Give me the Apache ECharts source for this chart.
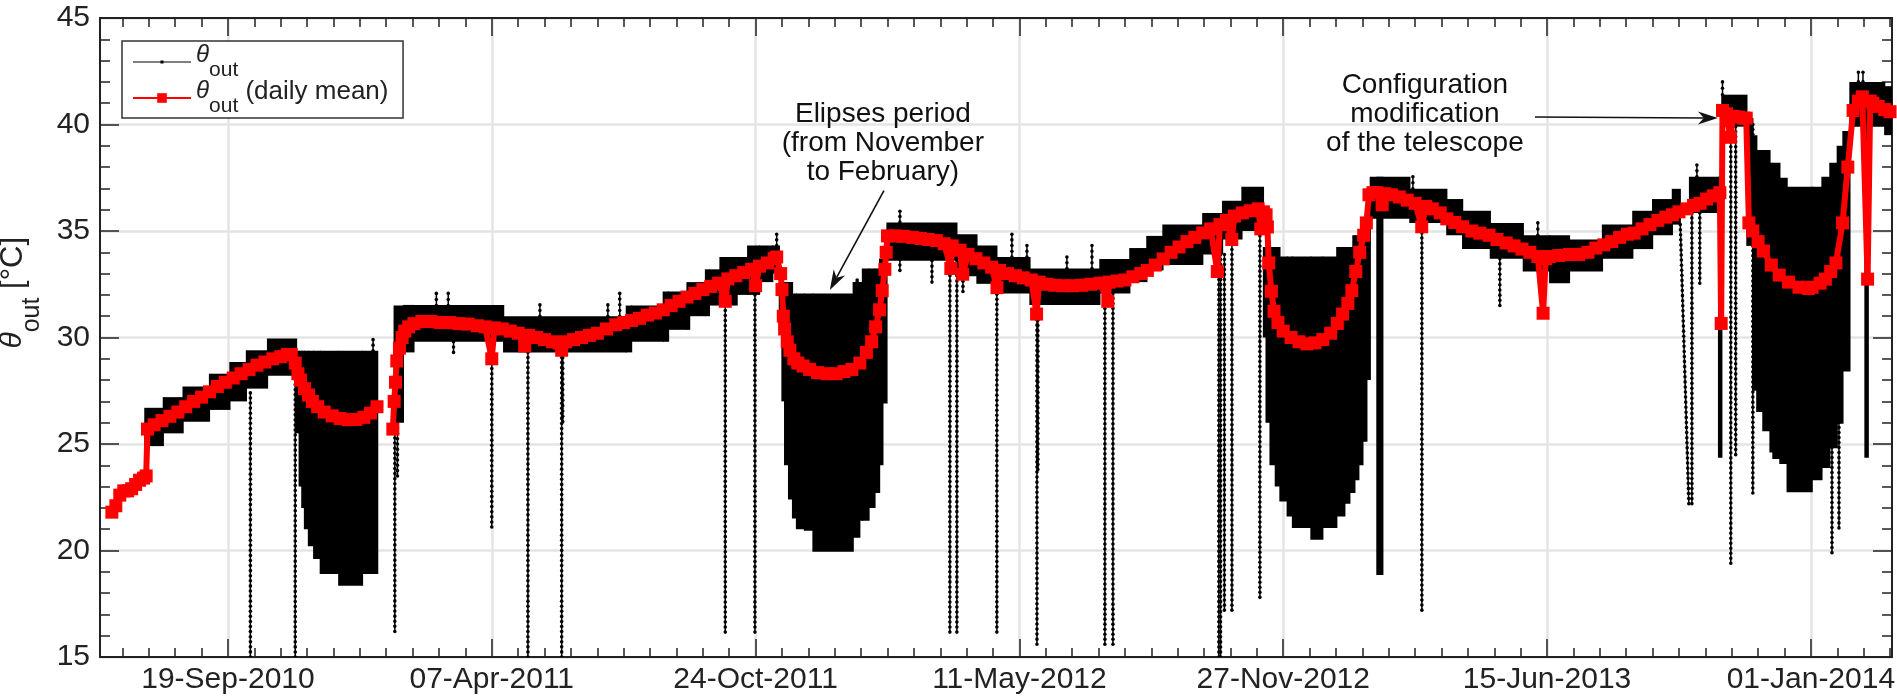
<!DOCTYPE html>
<html><head><meta charset="utf-8">
<script src="https://cdn.jsdelivr.net/npm/echarts@6/dist/echarts.min.js"></script>
<style>html,body{margin:0;padding:0;background:#fff}#c{width:1897px;height:697px}</style>
</head><body><div id="c"></div>
<script>
// x values: days since 19-Sep-2010
const xTickDays = [0, 200, 400, 600, 800, 1000, 1200];
const xTickLabels = ['19-Sep-2010','07-Apr-2011','24-Oct-2011','11-May-2012','27-Nov-2012','15-Jun-2013','01-Jan-2014'];
const yTickValues = [15, 20, 25, 30, 35, 40, 45];
const xRange = [-97, 1261.5];

// daily mean [day, value]; null = no data
const meanDaily = [
[-88,21.8],[-85,22.1],[-82,22.6],[-79,22.8],[-76,22.8],[-73,22.9],[-70,23.1],[-67,23.3],[-64,23.4],[-62,23.5],
[-61,25.7],[-56,25.9],[-50,26.1],[-44,26.3],[-38,26.5],[-32,26.75],[-26,27.0],[-20,27.2],[-14,27.45],[-8,27.7],
[-2,27.9],[4,28.1],[10,28.3],[16,28.5],[22,28.7],[28,28.85],[34,29.0],[40,29.1],[45,29.2],[48,29.2],
[51,28.8],[53,28.3],[55,28.0],[58,27.6],[61,27.3],[64,27.0],[68,26.75],[73,26.5],[79,26.32],[85,26.2],
[91,26.14],[97,26.15],[103,26.25],[108,26.45],[113,26.75],[119,null],
[125,25.7],[126,27.0],[127,27.9],[128,28.9],[130,29.5],[132,30.0],[134,30.3],[137,30.5],[141,30.65],[147,30.75],
[154,30.75],[161,30.7],[168,30.7],[175,30.65],[182,30.63],[189,30.55],[195,30.5],[200,29.0],[202,30.45],[208,30.4],
[214,30.3],[220,30.2],[225,29.6],[228,30.1],[234,30.0],[240,29.9],[246,29.8],[251,29.74],[253,29.4],[256,29.8],
[262,29.9],[268,30.0],[274,30.1],[280,30.2],[287,30.4],[294,30.6],[300,30.7],[306,30.8],[312,30.9],[318,31.05],
[324,31.15],[330,31.3],[336,31.5],[342,31.7],[348,31.9],[354,32.07],[360,32.25],[366,32.4],[372,32.55],[377,31.7],
[379,32.75],[385,32.9],[391,33.05],[397,33.2],[400,32.43],[403,33.35],[409,33.5],[414,33.7],[416,33.78],[419,33.0],
[420,32.25],[421,31.0],[422,30.4],[424,29.8],[426,29.4],[429,29.0],[432,28.8],[436,28.66],[441,28.5],[447,28.35],
[454,28.3],[461,28.3],[467,28.4],[473,28.5],[479,28.8],[484,29.3],[488,29.8],[491,30.5],[494,31.3],[496,32.2],
[498,33.2],[499,34.0],[500,34.77],[506,34.77],[512,34.75],[519,34.7],[525,34.65],[531,34.6],[537,34.55],[543,34.4],
[548,33.24],[549,34.3],[555,34.1],[557,32.97],[561,33.9],[567,33.7],[573,33.5],[579,33.3],[583,32.34],[585,33.15],
[591,33.0],[597,32.9],[603,32.8],[609,32.7],[613,31.1],[615,32.6],[621,32.5],[627,32.45],[633,32.43],[640,32.43],
[647,32.45],[654,32.5],[661,32.55],[667,31.7],[668,32.6],[674,32.65],[680,32.7],[686,32.85],[692,33.0],[697,33.15],
[703,33.4],[709,33.69],[715,34.0],[721,34.25],[727,34.5],[733,34.7],[739,34.91],[745,35.1],[750,33.1],[752,35.3],
[757,35.5],[761,34.6],[763,35.7],[769,35.85],[775,35.95],[781,36.04],[783,35.1],[785,35.9],[787,35.76],[788,35.19],
[789,33.5],[791,32.17],[793,31.23],[796,30.7],[800,30.3],[806,30.0],[812,29.8],[818,29.7],[824,29.75],[830,29.9],
[836,30.2],[841,30.66],[845,31.1],[849,31.6],[852,32.2],[855,33.1],[858,34.0],[861,34.8],[863,35.38],[865,36.7],
[868,36.8],[871,36.8],[875,36.23],[877,36.75],[882,36.7],[888,36.6],[894,36.45],[900,36.3],[905,35.2],[908,36.15],
[913,36.04],[919,35.85],[924,35.57],[930,35.4],[936,35.2],[943,35.0],[949,34.9],[956,34.8],[962,34.6],[969,34.44],
[975,34.3],[981,34.15],[987,34.0],[993,33.8],[997,31.14],[999,33.7],[1002,33.8],[1009,33.85],[1017,33.9],[1024,33.9],
[1031,34.0],[1037,34.2],[1043,34.35],[1049,34.5],[1055,34.7],[1061,34.85],[1066,34.9],[1072,35.1],[1078,35.3],[1084,35.5],
[1090,35.65],[1095,35.76],[1100,35.9],[1106,36.04],[1111,36.2],[1116,36.3],[1121,36.5],[1126,36.65],[1131,36.8],[1132,30.66],
[1133,40.66],[1136,40.5],[1139,39.4],[1141,40.38],[1145,40.35],[1149,40.3],[1151,40.3],[1153,35.38],[1156,35.0],[1160,34.5],
[1164,34.06],[1170,33.4],[1176,32.93],[1183,32.6],[1191,32.36],[1198,32.3],[1201,32.36],[1207,32.55],[1211,32.74],[1215,33.1],
[1219,33.5],[1224,35.38],[1228,38.0],[1232,40.66],[1236,41.1],[1239,41.3],[1243,32.74],[1245,41.1],[1247,41.0],[1251,40.85],
[1256,40.7],[1260,40.6]
];

// raw record: dense stretches as [dayStart, dayEnd, low, high]
const rawBands = [
[-63,-49,24.9,26.7],[-49,-34,25.5,27.2],[-34,-14,26.05,27.7],[-14,1.5,26.6,28.3],[1.5,14,27.0,28.85],[14,30,27.6,29.4],[30,52,28.2,29.95],
[52,54,25.5,29.38],[54,56,23.0,29.38],[56,58,22.0,29.38],[58,61,21.0,29.38],[61,65,20.2,29.38],[65,70,19.6,29.38],[70,84,18.9,29.38],[84,102,18.35,29.38],[102,113.5,18.9,29.38],
[126,133,26.0,31.5],[133,141,29.3,31.53],[141,209,29.8,31.53],[209,302,29.3,31.0],[302,306,29.3,31.5],[306,330,29.8,31.5],[330,334,29.8,32.16],[334,348,30.36,32.16],
[348,350,30.36,32.6],[350,362,31.0,32.6],[362,365,31.0,33.2],[365,373,31.5,33.2],[373,386,31.5,33.78],[386,394,32.0,33.78],[394,403,32.0,34.32],[403,413,32.6,34.32],[413,418,33.0,34.32],
[418,420,30.4,32.6],[420,422,27.0,32.6],[422,425,24.0,32.6],[425,428,22.4,32.6],[428,431,21.5,32.07],[431,437,21.0,32.07],[437,443.5,20.93,32.07],[443.5,474,19.94,32.07],
[474,479,20.6,32.6],[479,481,21.4,32.6],[481,486,21.4,33.24],[486,490.5,22.0,33.24],[490.5,494,22.7,33.24],[494,496.5,24.0,33.7],[496.5,499.6,26.9,33.7],
[499.6,552.6,33.6,35.4],[552.6,567.8,32.88,34.85],[567.8,582.9,32.52,34.32],[582.9,608,32.07,33.78],[608,661,31.53,33.24],[661,683.7,32.07,33.69],[683.7,696.6,32.6,34.2],
[696.6,708.8,33.15,34.77],[708.8,739,33.4,35.3],[739,754,33.9,35.85],[754,768.7,34.6,36.42],[768.7,785,35.0,37.08],
[785,787,30.0,34.25],[787,790,26.0,34.25],[790,794,24.0,34.25],[794,797.5,23.0,34.25],[797.5,803,22.3,33.8],[803,807,21.6,33.8],[807,821,21.06,33.8],[821,830,20.5,33.8],
[830,840.6,21.06,33.8],[840.6,846.7,21.6,34.25],[846.7,850.5,22.2,34.25],[850.5,852.8,22.7,34.25],[852.8,854.3,22.7,34.8],[854.3,857.3,23.3,34.8],[857.3,860.4,24.0,34.8],
[860.4,863.4,25.1,35.4],[863.4,866,28.0,36.5],
[866,896,35.57,37.55],[871,875.5,18.85,37.55],[896,924,35.38,36.98],[924,936,34.8,36.5],[936,957,34.15,35.95],[957,982,33.7,35.38],[982,1002,33.1,34.8],
[1002,1017,32.55,34.8],[1017,1042,33.1,34.6],[1042,1065,33.7,35.3],[1065,1080,34.15,35.95],[1080,1095,34.8,36.5],[1095,1101,35.3,36.98],[1108,1131,35.85,37.55],
[1130,1132.5,24.35,37.55],[1132.5,1151.5,39.9,41.4],[1151.5,1156,34.3,40.3],
[1156,1159,27.5,39.5],[1159,1163.6,26.5,38.8],[1163.6,1169,25.6,38.8],[1169,1171.2,24.6,38.2],[1171.2,1176.5,24.3,38.2],[1176.5,1182,24.06,37.5],[1182,1201,22.74,37.08],
[1201,1208.4,23.3,37.08],[1208.4,1214.4,23.87,37.55],[1214.4,1220,24.8,38.2],[1220,1224.3,25.95,39.0],[1224.3,1229.6,28.4,39.7],
[1229.6,1256,39.9,42.0],[1241,1243.5,24.35,42.0],[1256,1262,39.5,41.8]
];

// raw record: isolated excursions [day0, value0, day1, value1]
const rawSpikes = [
[17,27.4,17,15],[51,28.5,51,15],[110,29.9,110,29.38],[126.5,26.0,126.5,16.2],[128.5,27.0,128.5,23.5],[158,32.07,158,31.5],[167,32.07,167,31.5],
[171,29.8,171,29.3],[200,29.5,200,21.1],[227.4,29.3,227.4,15],[236.5,31.53,236.5,31.0],[253,29.3,253,15],[253.8,29.3,253.8,26.05],[288,31.53,288,31.0],
[297,32.07,297,31.0],[377,31.5,377,16.17],[399.5,32.0,399.5,16.17],[416,34.85,416,34.32],[477,32.7,477,32.6],[509.4,35.93,509.4,33.15],[533.7,33.6,533.7,32.6],
[547.3,33.6,547.3,16.17],[552.6,33.6,552.6,16.17],[557.2,32.88,557.2,32.16],[582.9,32.5,582.9,16.17],[594.3,34.85,594.3,33.78],[605.7,34.32,605.7,33.78],
[613.3,31.53,613.3,15.6],[614,31.53,614,23.8],[636,33.78,636,33.24],[655,34.32,655,33.24],[664.8,32.07,664.8,15.6],[670.9,32.07,670.9,15.6],
[751.2,33.9,751.2,15],[752.5,33.9,752.5,15],[755.4,33.9,755.4,17.2],[761.1,34.6,761.1,17.2],[782.3,35.0,782.3,17.8],[898.3,37.55,898.3,36.98],
[905.1,35.38,905.1,17.2],[964.2,33.7,964.2,31.5],[993,35.38,993,34.8],[996.8,33.1,996.8,31.1],[1101,35.3,1107.5,22.2],[1109.8,35.85,1109.8,22.2],
[1113.6,38.1,1113.6,37.55],[1115.8,35.85,1115.8,32.55],[1133,42.0,1133,41.4],[1139.3,39.9,1139.3,19.4],[1143,39.9,1143,24.5],[1156,40.0,1156,22.7],
[1216,38.0,1216,19.9],[1221.3,38.5,1221.3,21.06],[1236,42.45,1236,42.0],[1239.5,42.45,1239.5,42.0]
];

const N1 = 'θout', N2 = 'θout (daily mean)';
const FONT = 'Liberation Sans';
const minorDays = [];
for (let d = -80; d <= 1260; d += 20) if (d % 200 !== 0) minorDays.push(d);

const chart = echarts.init(document.getElementById('c'), null, {renderer: 'canvas'});
const axisLineStyle = {color: '#222', width: 2};
const richLegend = {
  th: {fontFamily: FONT, fontStyle: 'italic', fontSize: 24, lineHeight: 30, verticalAlign: 'top', color: '#222'},
  sub: {fontFamily: FONT, fontSize: 21, lineHeight: 20, verticalAlign: 'bottom', color: '#222'},
  t: {fontFamily: FONT, fontSize: 26, lineHeight: 32, verticalAlign: 'top', color: '#222'},
  z: {fontSize: 2, lineHeight: 38}
};
const richName = {
  th: {fontFamily: FONT, fontStyle: 'italic', fontSize: 30, lineHeight: 36, verticalAlign: 'top', color: '#222'},
  sub: {fontFamily: FONT, fontSize: 25, lineHeight: 24, verticalAlign: 'bottom', color: '#222'},
  t: {fontFamily: FONT, fontSize: 31, lineHeight: 38, verticalAlign: 'top', color: '#222'},
  z: {fontSize: 2, lineHeight: 47}
};
function xAxisDef(pos, ticks, len, labels) {
  return {
    type: 'value', position: pos, min: xRange[0], max: xRange[1], gridIndex: 0,
    axisLine: {show: true, onZero: false, lineStyle: axisLineStyle},
    axisTick: {show: true, inside: true, length: len, customValues: ticks, lineStyle: {color: '#222', width: 1.5}},
    axisLabel: labels ? {show: true, customValues: xTickDays, margin: 8, fontFamily: FONT, fontSize: 30, color: '#222',
      formatter: v => xTickLabels[xTickDays.indexOf(Math.round(v))] || ''} : {show: false},
    splitLine: labels ? {show: true, lineStyle: {color: '#e4e4e4', width: 2.5}} : {show: false}
  };
}
function yAxisDef(pos, labels) {
  return {
    type: 'value', position: pos, min: 15, max: 45, interval: 5, gridIndex: 0,
    axisLine: {show: true, onZero: false, lineStyle: axisLineStyle},
    axisTick: {show: true, inside: true, length: 19, lineStyle: {color: '#222', width: 1.5}},
    minorTick: {show: true, splitNumber: 5, length: 10, lineStyle: {color: '#222', width: 1.5}},
    axisLabel: labels ? {show: true, margin: 10, fontFamily: FONT, fontSize: 30, color: '#222',
      formatter: v => yTickValues.indexOf(v) >= 0 ? String(v) : ''} : {show: false},
    splitLine: labels ? {show: true, lineStyle: {color: '#e4e4e4', width: 2.5}} : {show: false},
    name: labels ? '{th|θ}{sub|out}{t| [°C]}{z| }' : '',
    nameLocation: 'middle', nameGap: 55, nameRotate: 90,
    nameTextStyle: {rich: richName, padding: [0, 0, 0, 90]}
  };
}

chart.setOption({
  animation: false,
  backgroundColor: '#fff',
  grid: {left: 100, right: 5, top: 18, bottom: 40, containLabel: false, outerBoundsMode: 'none'},
  xAxis: [
    xAxisDef('bottom', xTickDays, 18, true),
    xAxisDef('bottom', minorDays, 9, false),
    xAxisDef('top', xTickDays, 18, false),
    xAxisDef('top', minorDays, 9, false)
  ],
  yAxis: [yAxisDef('left', true), yAxisDef('right', false)],
  legend: {
    left: 122, top: 41, orient: 'vertical',
    padding: [2, 14, 1, 10], itemGap: -2,
    borderColor: '#333', borderWidth: 1.5, backgroundColor: '#fff',
    itemWidth: 58, itemHeight: 12,
    data: [{name: N1, icon: 'path://M0,5.4H58V6.6H0Z M27.5,4.5H30.5V7.5H27.5Z'}, {name: N2}],
    formatter: n => n === N1 ? '{th|θ}{sub|out}{z| }' : '{th|θ}{sub|out}{t| (daily mean)}{z| }',
    textStyle: {fontFamily: FONT, fontSize: 25, color: '#222', rich: richLegend}
  },
  series: [
    {
      name: N1, type: 'custom', xAxisIndex: 0, yAxisIndex: 0, clip: true, z: 2,
      itemStyle: {color: '#000'},
      encode: {x: [0, 1], y: [2, 3]},
      data: rawBands,
      renderItem: (params, api) => {
        const p0 = api.coord([api.value(0), api.value(3)]);
        const p1 = api.coord([api.value(1), api.value(2)]);
        return {type: 'rect', shape: {x: p0[0] - 0.6, y: p0[1], width: Math.max(1.5, p1[0] - p0[0]) + 1.2, height: p1[1] - p0[1]},
          style: {fill: '#000'}};
      }
    },
    {
      name: N1, type: 'custom', xAxisIndex: 0, yAxisIndex: 0, clip: true, z: 2,
      itemStyle: {color: '#000'},
      encode: {x: [0, 2], y: [1, 3]},
      data: rawSpikes,
      renderItem: (params, api) => {
        const a = api.coord([api.value(0), api.value(1)]);
        const b = api.coord([api.value(2), api.value(3)]);
        const children = [{type: 'line', shape: {x1: a[0], y1: a[1], x2: b[0], y2: b[1]}, style: {stroke: '#000', lineWidth: 1.5}}];
        const len = Math.hypot(b[0] - a[0], b[1] - a[1]);
        const n = Math.max(1, Math.floor(len / 5));
        for (let i = 0; i <= n; i++) {
          const t = i / n;
          children.push({type: 'circle', shape: {cx: a[0] + (b[0] - a[0]) * t, cy: a[1] + (b[1] - a[1]) * t, r: 1.8}, style: {fill: '#000'}});
        }
        return {type: 'group', children};
      }
    },
    {
      name: N2, type: 'line', xAxisIndex: 0, yAxisIndex: 0, z: 3,
      data: meanDaily.map(p => [p[0], p[1] === null ? '-' : p[1]]),
      connectNulls: false,
      symbol: 'rect', symbolSize: 13, showSymbol: true, showAllSymbol: true,
      itemStyle: {color: '#ff0000'},
      lineStyle: {color: '#ff0000', width: 6}
    }
  ]
});

// annotations
const P = (d, v) => chart.convertToPixel({xAxisIndex: 0, yAxisIndex: 0}, [d, v]);
function arrow(from, to) {
  const a = P(from[0], from[1]), b = P(to[0], to[1]);
  const ang = Math.atan2(b[1] - a[1], b[0] - a[0]);
  const c = Math.cos(ang), s = Math.sin(ang);
  const L = 20, W = 6.5, N = 14;
  const bx = b[0] - c * L, by = b[1] - s * L;
  const nx = b[0] - c * N, ny = b[1] - s * N;
  return [
    {type: 'line', z: 10, shape: {x1: a[0], y1: a[1], x2: nx, y2: ny}, style: {stroke: '#111', lineWidth: 1.6}},
    {type: 'polygon', z: 10, shape: {points: [[b[0], b[1]], [bx - s * W, by + c * W], [nx, ny], [bx + s * W, by - c * W]]}, style: {fill: '#111'}}
  ];
}
function label(at, text) {
  const p = P(at[0], at[1]);
  return {type: 'text', z: 10, x: p[0], y: p[1],
    style: {text, fontFamily: FONT, fontSize: 28, lineHeight: 29, fill: '#111', align: 'center', verticalAlign: 'top'}};
}
chart.setOption({
  graphic: [
    label([496.5, 41.15], 'Elipses period\n(from November\nto February)'),
    ...arrow([497.3, 36.9], [456.3, 32.23]),
    label([907.4, 42.5], 'Configuration\nmodification\nof the telescope'),
    ...arrow([990.8, 40.35], [1129.5, 40.3])
  ]
});
</script>
</body></html>
